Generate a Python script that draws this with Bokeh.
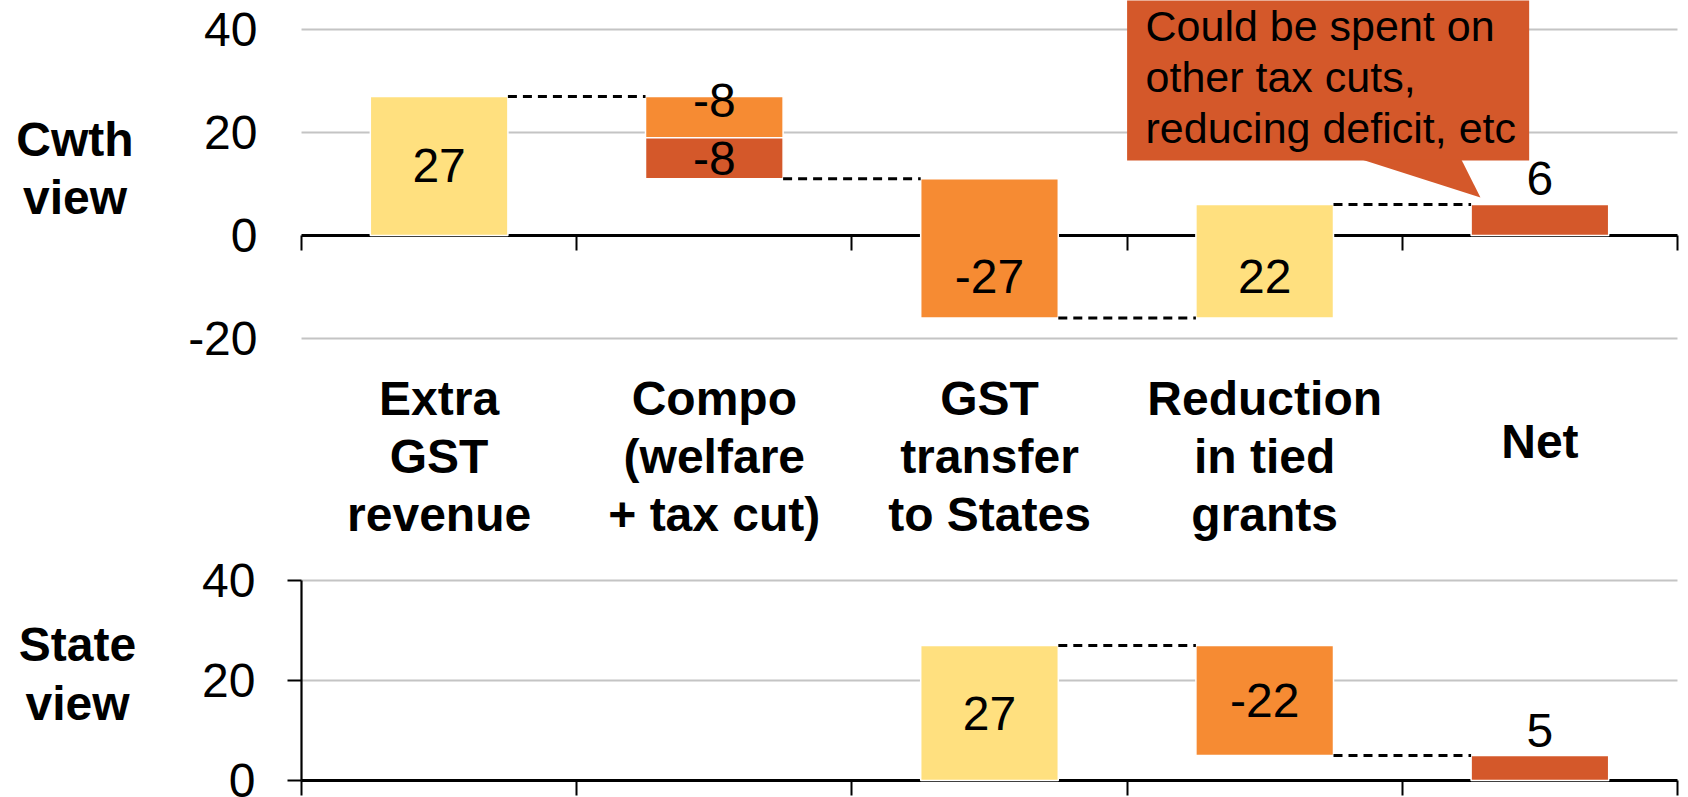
from bokeh.plotting import figure
from bokeh.models import ColumnDataSource, FixedTicker, LinearAxis, Range1d
from bokeh.layouts import column
from bokeh.embed import file_html
from bokeh.resources import INLINE
from bokeh.core.properties import value

# ---------------- data ----------------
categories = ["Extra\nGST\nrevenue", "Compo\n(welfare\n+ tax cut)", "GST\ntransfer\nto States",
              "Reduction\nin tied\ngrants", "Net"]

cwth_cat = [0, 1, 1, 2, 3, 4]
cwth_val = [27, -8, -8, -27, 22, 6]
cwth_kind = ["up", "down", "down2", "down", "up", "net"]

state_cat = [2, 3, 4]
state_val = [27, -22, 5]
state_kind = ["up", "down", "net"]

cwth_yticks = [-20, 0, 20, 40]
state_yticks = [0, 20, 40]

panel_titles = ["Cwth\nview", "State\nview"]
callout_lines = ["Could be spent on", "other tax cuts,", "reducing deficit, etc"]

# ---------------- style ----------------
COLORS = {"up": "#FFE07F", "down": "#F68B33", "down2": "#D4582A", "net": "#D4582A"}
FONT = "Liberation Sans"
GRID = "#C4C4C4"
BAR_W = 0.5
W = 1688
X_RANGE = (-1.0938, 5.040)
N_CAT = len(categories)


def waterfall(cats, vals, kinds):
    bars = dict(x=[], bottom=[], top=[], color=[])
    labs = dict(x=[], y=[], text=[])
    conn = dict(x0=[], x1=[], y=[])
    level = 0.0
    seen = {}
    last_level = {}
    for c, v, k in zip(cats, vals, kinds):
        if k == "net":
            b, t = 0.0, float(v)
        else:
            b, t = level, level + v
            level = t
        last_level[c] = t
        bars["x"].append(c + 0.5)
        bars["bottom"].append(b)
        bars["top"].append(t)
        bars["color"].append(COLORS[k])
        lo, hi = min(b, t), max(b, t)
        if k == "net":
            ly = hi + 5.1                      # outside end
        elif cats.count(c) > 1 and c not in seen:
            ly = hi - 0.8                      # inside end
        elif lo < 0 < hi:
            ly = lo / 2.0                      # centre of the part below zero
        else:
            ly = (lo + hi) / 2.0
        seen[c] = True
        labs["x"].append(c + 0.5)
        labs["y"].append(ly)
        labs["text"].append(str(v))
    order = sorted(set(cats))
    for a, bnext in zip(order[:-1], order[1:]):
        conn["x0"].append(a + 0.5 + BAR_W / 2)
        conn["x1"].append(bnext + 0.5 - BAR_W / 2)
        conn["y"].append(last_level[a])
    return bars, labs, conn


def make_panel(height, yr, yticks, cats, vals, kinds, with_ticks):
    p = figure(width=W, height=height, output_backend="svg", toolbar_location=None,
               x_range=Range1d(*X_RANGE), y_range=yr, x_axis_location=None, y_axis_location=None,
               min_border_left=0, min_border_right=0, min_border_top=0, min_border_bottom=0)
    p.outline_line_color = None
    p.background_fill_color = "white"
    p.xgrid.visible = False
    p.ygrid.visible = False

    # horizontal gridlines restricted to the category area
    gl = [t for t in yticks if t != 0]
    p.segment(x0=[0] * len(gl), x1=[N_CAT] * len(gl), y0=gl, y1=gl,
              line_color=GRID, line_width=2)

    ya = LinearAxis(fixed_location=0, ticker=FixedTicker(ticks=yticks),
                    major_label_overrides={t: str(t) for t in yticks},
                    major_label_text_font=FONT, major_label_text_font_size="48px",
                    major_label_text_color="black", minor_tick_line_color=None)
    if with_ticks:
        ya.axis_line_color = "black"
        ya.axis_line_width = 2.2
        ya.bounds = (min(yticks), max(yticks))
        ya.major_tick_line_color = "black"
        ya.major_tick_line_width = 2
        ya.major_tick_out = 14
        ya.major_tick_in = 0
        ya.major_label_standoff = 32
    else:
        ya.axis_line_color = None
        ya.major_tick_line_color = None
        ya.major_tick_out = 0
        ya.major_tick_in = 0
        ya.major_label_standoff = 44
    p.add_layout(ya, "left")

    xa = LinearAxis(fixed_location=0, ticker=FixedTicker(ticks=list(range(N_CAT + 1))),
                    major_label_overrides={i: "" for i in range(N_CAT + 1)},
                    major_label_text_font_size="0px", bounds=(0, N_CAT),
                    axis_line_color="black", axis_line_width=3,
                    major_tick_line_color="black", major_tick_line_width=2,
                    major_tick_out=15, major_tick_in=0, minor_tick_line_color=None)
    xa.level = "underlay"
    p.add_layout(xa, "below")

    bars, labs, conn = waterfall(cats, vals, kinds)
    p.vbar(x="x", width=BAR_W, bottom="bottom", top="top", fill_color="color",
           line_color="white", line_width=1.5, source=ColumnDataSource(bars))
    p.segment(x0="x0", x1="x1", y0="y", y1="y", line_color="black", line_width=3,
              line_dash="9 6", source=ColumnDataSource(conn))
    p.text(x="x", y="y", text="text", source=ColumnDataSource(labs), text_align="center",
           text_baseline="middle", text_font=value(FONT), text_font_size="48px",
           text_color="black")
    return p


# ---------------- top panel (Cwth view) ----------------
top = make_panel(545, Range1d(-60.19, 45.63), cwth_yticks, cwth_cat, cwth_val, cwth_kind, False)

# category labels
top.text(x=[i + 0.5 for i in range(N_CAT)],
         y=[-42.9 if "\n" in c else -40.0 for c in categories],
         text=categories, text_align="center", text_baseline="middle",
         text_font=value(FONT), text_font_size="48px", text_font_style="bold",
         text_line_height=1.1, text_color="black")

# callout
top.quad(left=[3.0], right=[4.461], bottom=[14.55], top=[60], fill_color="#D4582A", line_color=None)
top.patch(x=[3.855, 4.284, 4.215], y=[14.7, 7.37, 14.7], fill_color="#D4582A", line_color=None)
top.text(x=[3.067] * 3, y=[40.74, 30.85, 20.95], text=callout_lines, text_align="left",
         text_baseline="middle", text_font=value(FONT), text_font_size="43px", text_color="black")

# panel title
top.text(x=[-0.823], y=[13.0], text=[panel_titles[0]], text_align="center",
         text_baseline="middle", text_font=value(FONT), text_font_size="48px",
         text_font_style="bold", text_line_height=1.1, text_color="black")

# ---------------- bottom panel (State view) ----------------
bot = make_panel(252, Range1d(-3.4, 47.0), state_yticks, state_cat, state_val, state_kind, True)
bot.text(x=[-0.814], y=[21.3], text=[panel_titles[1]], text_align="center",
         text_baseline="middle", text_font=value(FONT), text_font_size="48px",
         text_font_style="bold", text_line_height=1.1, text_color="black")

layout = column(top, bot, spacing=0)
open("out.html", "w").write(file_html(layout, INLINE))
